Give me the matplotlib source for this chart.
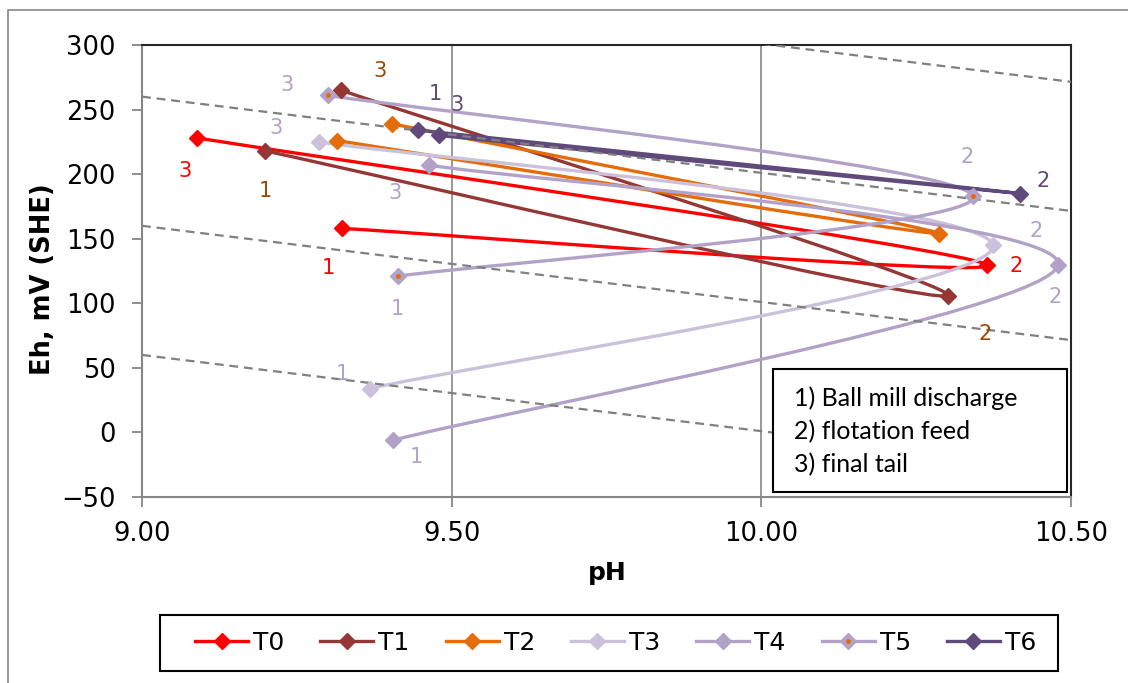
import numpy as np
import matplotlib
matplotlib.use("Agg")
import matplotlib.pyplot as plt
from matplotlib.patches import Rectangle, PathPatch
from matplotlib.lines import Line2D
from matplotlib.path import Path
from matplotlib.legend_handler import HandlerTuple

# ---------------- data (point order: 1) ball mill discharge, 2) flotation feed, 3) final tail)
series_names = ["T0", "T1", "T2", "T3", "T4", "T5", "T6"]
T0_ph = [9.323, 10.364, 9.089]
T0_eh = [158, 130, 228]
T1_ph = [9.199, 10.301, 9.321]
T1_eh = [218, 106, 265]
T2_ph = [9.315, 10.287, 9.403]
T2_eh = [226, 154, 239]
T3_ph = [9.368, 10.374, 9.285]
T3_eh = [34, 145, 225]
T4_ph = [9.406, 10.479, 9.463]
T4_eh = [-6, 130, 207]
T5_ph = [9.413, 10.342, 9.300]
T5_eh = [121, 183, 261]
T6_ph = [9.446, 10.418, 9.479]
T6_eh = [234, 185, 230]
point_labels = ["1", "2", "3"]

# reference Nernst-type lines (Eh at pH 9.0 and pH 10.5)
ref_ph = [9.0, 10.5]
ref_eh_start = [360, 260, 160, 60]
ref_eh_end = [271.5, 171.5, 71.5, -28.5]

x_ticks = [9.00, 9.50, 10.00, 10.50]
x_ticklabels = ["9.00", "9.50", "10.00", "10.50"]
y_ticks = [-50, 0, 50, 100, 150, 200, 250, 300]
note_lines = ["1) Ball mill discharge", "2) flotation feed", "3) final tail"]

# ---------------- styles
colors = {"T0": "#FF0000", "T1": "#953735", "T2": "#E46C0A", "T3": "#CCC1DA",
          "T4": "#B3A2C7", "T5": "#B3A2C7", "T6": "#604A7B"}
label_colors = {"T0": "#FF0000", "T1": "#984807", "T3": "#B3A2C7",
                "T4": "#B3A2C7", "T5": "#B3A2C7", "T6": "#604A7B"}
# label offsets in pixels (dx right, dy down) for points 1,2,3
label_offsets = {
    "T0": [(-14, 40), (29, 1), (-12, 33)],
    "T1": [(0, 40), (37, 38), (39, -19)],
    "T3": [(-28, -15), (43, -14), (-43, -14)],
    "T4": [(23, 17), (-3, 32), (-34, 28)],
    "T5": [(0, 33), (-6, -39), (-41, -10)],
    "T6": [(17, -36), (23, -13), (18, -30)],
}
data = {"T0": (T0_ph, T0_eh), "T1": (T1_ph, T1_eh), "T2": (T2_ph, T2_eh),
        "T3": (T3_ph, T3_eh), "T4": (T4_ph, T4_eh), "T5": (T5_ph, T5_eh),
        "T6": (T6_ph, T6_eh)}

W, H = 1128, 683
fig = plt.figure(figsize=(W / 100, H / 100), dpi=100)
L, R, T, B = 142, 1071, 45, 497
ax = fig.add_axes([L / W, 1 - B / H, (R - L) / W, (B - T) / H])
ax.set_xlim(9.0, 10.5)
ax.set_ylim(-50, 300)


def smooth_path(xs, ys):
    P = np.column_stack([xs, ys]).astype(float)
    n = len(P)
    verts = [P[0]]
    codes = [Path.MOVETO]
    for i in range(n - 1):
        p0 = P[i - 1] if i > 0 else P[i]
        p1 = P[i]
        p2 = P[i + 1]
        p3 = P[i + 2] if i + 2 < n else P[i + 1]
        c1 = p1 + (p2 - p0) / 6.0
        c2 = p2 - (p3 - p1) / 6.0
        verts += [c1, c2, p2]
        codes += [Path.CURVE4] * 3
    return Path(verts, codes)


# grid
for xv in [9.5, 10.0]:
    ax.axvline(xv, color="#868686", lw=1.2, zorder=0.5)

LW = 2.4
MS = 8
handles = []
for name in series_names:
    xs, ys = data[name]
    c = colors[name]
    ax.add_patch(PathPatch(smooth_path(xs, ys), fill=False, edgecolor=c, lw=LW,
                           zorder=2, capstyle="round", joinstyle="round"))
    ax.plot(xs, ys, ls="none", marker="D", ms=MS, color=c, zorder=4)
    h = Line2D([], [], color=c, lw=LW, marker="D", ms=MS)
    if name == "T5":
        ax.plot(xs, ys, ls="none", marker="o", ms=2.5, color="#E46C0A", zorder=5)
        dot = Line2D([], [], ls="none", marker="o", ms=2.5, color="#E46C0A")
        handles.append((h, dot))
    else:
        handles.append(h)
    if name in label_offsets:
        for (x, y), lab, (dx, dy) in zip(zip(xs, ys), point_labels, label_offsets[name]):
            ax.annotate(lab, (x, y), xytext=(dx * 0.72, -dy * 0.72), textcoords="offset points",
                        ha="center", va="center", fontsize=15, color=label_colors[name],
                        zorder=6)

# dashed reference lines
for e0, e1 in zip(ref_eh_start, ref_eh_end):
    ax.plot(ref_ph, [e0, e1], color="#808080", lw=1.6, ls=(0, (4, 2.6)), zorder=3)

# axes styling
ax.set_xticks(x_ticks)
ax.set_xticklabels(x_ticklabels)
ax.set_yticks(y_ticks)
ax.tick_params(axis="both", labelsize=18.5, colors="#868686", labelcolor="black",
               length=7, width=1.3, direction="out")
ax.tick_params(axis="y", pad=12)
ax.tick_params(axis="x", pad=10)
for s in ["left", "bottom"]:
    ax.spines[s].set_color("#868686")
    ax.spines[s].set_linewidth(1.5)
for s in ["top", "right"]:
    ax.spines[s].set_color("#262626")
    ax.spines[s].set_linewidth(1.5)

fig.text(607 / W, 1 - 573 / H, "pH", fontsize=18, fontweight="bold", ha="center", va="center")
fig.text(43 / W, 1 - 279 / H, "Eh, mV (SHE)", fontsize=18.5, fontweight="bold",
         ha="center", va="center", rotation=90)

# note box
bx0, by0, bx1, by1 = 773, 369, 1067, 492
fig.patches.append(Rectangle((bx0 / W, 1 - by1 / H), (bx1 - bx0) / W, (by1 - by0) / H,
                             transform=fig.transFigure, facecolor="white",
                             edgecolor="black", lw=1.5, zorder=10))
for i, line in enumerate(note_lines):
    fig.text(794 / W, 1 - (398 + 33.5 * i) / H, line, fontsize=18, family="Lato",
             ha="left", va="center", zorder=11)

# legend box
lx0, ly0, lx1, ly1 = 160, 615, 1058, 671
fig.patches.append(Rectangle((lx0 / W, 1 - ly1 / H), (lx1 - lx0) / W, (ly1 - ly0) / H,
                             transform=fig.transFigure, facecolor="white",
                             edgecolor="black", lw=1.5, zorder=1))
leg = fig.legend(handles, series_names, loc="center left",
                 bbox_to_anchor=(195 / W, 1 - 643 / H), ncol=7, frameon=False,
                 fontsize=18, handlelength=2.12, handletextpad=0.2,
                 columnspacing=1.44, borderpad=0, borderaxespad=0,
                 handler_map={tuple: HandlerTuple(ndivide=1)})

# outer chart border (left & top visible)
fig.patches.append(Rectangle((8 / W, -0.1), 1.2, 1.1 - 10 / H, transform=fig.transFigure,
                             facecolor="none", edgecolor="#868686", lw=1.2, zorder=0))

fig.savefig("out.png", dpi=100)
